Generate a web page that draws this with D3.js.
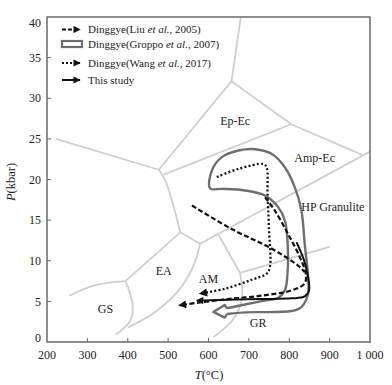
<!DOCTYPE html>
<html>
<head>
<meta charset="utf-8">
<script src="https://cdn.jsdelivr.net/npm/d3@7"></script>
<style>
  body { margin: 0; background: #fff; }
  svg { font-family: "Liberation Serif", "Times New Roman", serif; }
</style>
</head>
<body>
<svg id="chart" width="392" height="385"></svg>
<script>
// axis ticks
var xTicks = [200, 300, 400, 500, 600, 700, 800, 900, 1000];
var yTicks = [0, 5, 10, 15, 20, 25, 30, 35, 40];

// facies boundaries, [T (°C), P (kbar)]
var bTop      = [[680, 40], [657, 32.1]];
var bEpEcR    = [[657, 32.1], [805, 26.8]];
var bEpAmp    = [[805, 26.8], [982, 23]];
var bLeft     = [[222, 25], [477, 21.2]];
var bEpEcL    = [[477, 21.2], [657, 32.1]];
var bEpEcLow  = [[489, 20.6], [805, 26.8]];
var bEaTop    = [[477, 21.2], [493, 19.9], [514, 16.6], [530, 13.5]];
var bGsTop    = [[530, 13.5], [394.5, 7.5]];
var bGsLeft   = [[394.5, 7.5], [320, 7.0], [255, 5.7]];
var bGsRight  = [[394.5, 7.5], [412, 4.6], [406, 2.6], [370, 0.9]];
var bShort    = [[530, 13.5], [579, 12.1]];
var bHpg      = [[579, 12.1], [999, 23.4]];
var bEaAm     = [[579, 12.1], [563, 9.4], [526, 6.35], [468, 3.7], [401, 1.8]];
var bAmBr     = [[625, 13.2], [678, 8.5]];
var bGrTop    = [[678, 8.5], [900, 11.7]];
var bAmGr     = [[678, 8.5], [683, 5.3], [660, 2.7], [612, 0.6]];
var straight = [bTop, bEpEcR, bEpAmp, bLeft, bEpEcL, bEpEcLow, bGsTop, bShort, bHpg, bAmBr, bGrTop];
var curved = [bEaTop, bGsLeft, bGsRight, bEaAm, bAmGr];

// facies names
var facies = [
  {name: "Ep-Ec", T: 666, P: 27.2},
  {name: "Amp-Ec", T: 863, P: 22.7},
  {name: "HP Granulite", T: 908, P: 16.6},
  {name: "EA", T: 489, P: 8.8},
  {name: "AM", T: 600, P: 7.8},
  {name: "GS", T: 345, P: 4.1},
  {name: "GR", T: 723, P: 2.4}
];

// P-T paths
var liuA = [[559, 16.8], [657.5, 13.9], [756, 11.5], [822, 9.4], [838, 8.6]];
var liuB = [[740, 17.8], [764, 16.2], [797, 13.3], [826, 10.45], [841, 8.4], [838, 7.2],
            [805, 6.35], [731, 5.7], [649, 5.29], [575, 4.84], [527, 4.5]];
var wang = [[620.5, 20.3], [674, 21.3], [735.6, 21.9], [743.8, 21.5], [746.3, 18.2],
            [749.6, 14.1], [752, 9.2], [743.8, 8.4], [706.8, 7.66], [641, 6.56], [578, 5.95]];
var thisStudy = [[818, 12.3], [836.7, 10.04], [846.6, 8.0], [849, 6.35], [838.3, 5.61],
                 [805.5, 5.37], [731.5, 5.29], [649.3, 5.2], [583.6, 5.12], [571, 5.12]];
var groppoBand = [[646, 4.15], [731.5, 5.04], [772.6, 5.45], [789, 6.35], [795.6, 8.4],
                  [795.6, 12.5], [789, 14.96], [772.6, 16.6], [739.7, 18.03], [690.4, 18.65],
                  [632.9, 18.85], [604, 18.9], [608.2, 21.1], [632.9, 22.75], [674, 23.57],
                  [715, 23.73], [756.1, 23.16], [789, 21.5], [813.7, 19.06], [830.1, 16.19],
                  [838.3, 12.09], [846.6, 8.0], [846.6, 5.94], [830.1, 4.3], [805.5, 3.81],
                  [690.4, 3.65], [646, 3.45]];
var groppoHead = [[646, 3.45], [640, 3.0], [612, 3.7], [640, 4.55], [646, 4.15]];

var svg = d3.select("#chart");
var x = d3.scaleLinear().domain([200, 1000]).range([47, 370]);
var y = d3.scaleLinear().domain([0, 40]).range([342, 17]);

var lineStraight = d3.line().x(function(d) { return x(d[0]); }).y(function(d) { return y(d[1]); });
var lineCurve = d3.line().x(function(d) { return x(d[0]); }).y(function(d) { return y(d[1]); })
    .curve(d3.curveCatmullRom.alpha(0.5));

// arrow marker
svg.append("defs").append("marker")
    .attr("id", "arrow")
    .attr("viewBox", "0 0 10 10")
    .attr("refX", 9).attr("refY", 5)
    .attr("markerWidth", 4).attr("markerHeight", 3.6)
    .attr("orient", "auto")
  .append("path")
    .attr("d", "M0,0 L10,5 L0,10 z")
    .attr("fill", "#111");

var clip = svg.append("clipPath").attr("id", "plotclip")
  .append("rect").attr("x", 47).attr("y", 17).attr("width", 323).attr("height", 325);

var plot = svg.append("g").attr("clip-path", "url(#plotclip)");

// facies boundaries
plot.selectAll("path.bs").data(straight).enter().append("path")
    .attr("class", "bs")
    .attr("d", lineStraight)
    .attr("fill", "none").attr("stroke", "#cfcfcf").attr("stroke-width", 1.8);
plot.selectAll("path.bc").data(curved).enter().append("path")
    .attr("class", "bc")
    .attr("d", lineCurve)
    .attr("fill", "none").attr("stroke", "#cfcfcf").attr("stroke-width", 1.8);

plot.selectAll("text.fac").data(facies).enter().append("text")
    .attr("class", "fac")
    .attr("x", function(d) { return x(d.T); })
    .attr("y", function(d) { return y(d.P); })
    .attr("dy", "0.35em")
    .attr("text-anchor", "middle")
    .attr("font-size", 12)
    .attr("fill", "#222")
    .text(function(d) { return d.name; });

// Groppo hollow arrow band
plot.append("path").attr("d", lineCurve(groppoBand))
    .attr("fill", "none").attr("stroke", "#6f6f6f").attr("stroke-width", 2.4)
    .attr("stroke-linejoin", "round");
plot.append("path").attr("d", lineStraight(groppoHead))
    .attr("fill", "none").attr("stroke", "#6f6f6f").attr("stroke-width", 2.4)
    .attr("stroke-linejoin", "round");

// Liu (dashed)
plot.append("path").attr("d", lineCurve(liuA))
    .attr("fill", "none").attr("stroke", "#111").attr("stroke-width", 2.2)
    .attr("stroke-dasharray", "5,2.5");
plot.append("path").attr("d", lineCurve(liuB))
    .attr("fill", "none").attr("stroke", "#111").attr("stroke-width", 2.2)
    .attr("stroke-dasharray", "5,2.5")
    .attr("marker-end", "url(#arrow)");

// Wang (dotted)
plot.append("path").attr("d", lineCurve(wang))
    .attr("fill", "none").attr("stroke", "#111").attr("stroke-width", 2.3)
    .attr("stroke-dasharray", "2,2.2")
    .attr("marker-end", "url(#arrow)");

// This study (solid)
plot.append("path").attr("d", lineCurve(thisStudy))
    .attr("fill", "none").attr("stroke", "#111").attr("stroke-width", 2)
    .attr("marker-end", "url(#arrow)");

// frame
svg.append("rect").attr("x", 47).attr("y", 17).attr("width", 323).attr("height", 325)
    .attr("fill", "none").attr("stroke", "#6a6a6a").attr("stroke-width", 1.5);

// x ticks (inward)
svg.selectAll("line.xt").data(xTicks.slice(1, -1)).enter().append("line")
    .attr("x1", function(d) { return x(d); }).attr("x2", function(d) { return x(d); })
    .attr("y1", 342).attr("y2", 338)
    .attr("stroke", "#6a6a6a").attr("stroke-width", 1);
svg.selectAll("text.xl").data(xTicks).enter().append("text")
    .attr("x", function(d) { return x(d); })
    .attr("y", 359)
    .attr("text-anchor", "middle")
    .attr("font-size", 12)
    .attr("fill", "#222")
    .text(function(d) { return d === 1000 ? "1 000" : d; });

// y ticks (inward)
svg.selectAll("line.yt").data(yTicks.slice(1, -1)).enter().append("line")
    .attr("x1", 47).attr("x2", 51)
    .attr("y1", function(d) { return y(d); }).attr("y2", function(d) { return y(d); })
    .attr("stroke", "#6a6a6a").attr("stroke-width", 1);
svg.selectAll("text.yl").data(yTicks).enter().append("text")
    .attr("x", 41)
    .attr("y", function(d) { return y(d) + (d === 0 ? -4 : d === 40 ? 6 : 0); })
    .attr("dy", "0.35em")
    .attr("text-anchor", "end")
    .attr("font-size", 12)
    .attr("fill", "#222")
    .text(function(d) { return d; });

// axis titles
var xt = svg.append("text").attr("x", 209).attr("y", 379)
    .attr("text-anchor", "middle").attr("font-size", 12.5).attr("fill", "#222");
xt.append("tspan").attr("font-style", "italic").text("T");
xt.append("tspan").text("(°C)");

var yt = svg.append("text").attr("transform", "translate(15,182) rotate(-90)")
    .attr("text-anchor", "middle").attr("font-size", 12.5).attr("fill", "#222");
yt.append("tspan").attr("font-style", "italic").text("P");
yt.append("tspan").text("(kbar)");

// legend
var legend = [
  {pre: "Dinggye(Liu ", it: "et al.", post: ", 2005)", type: "dash", y: 29.5},
  {pre: "Dinggye(Groppo ", it: "et al.", post: ", 2007)", type: "box", y: 44},
  {pre: "Dinggye(Wang ", it: "et al.", post: ", 2017)", type: "dot", y: 63},
  {pre: "This study", it: "", post: "", type: "solid", y: 80}
];
var lg = svg.append("g");
legend.forEach(function(e) {
  if (e.type === "box") {
    lg.append("rect").attr("x", 62).attr("y", e.y - 3).attr("width", 20).attr("height", 6)
      .attr("fill", "#fff").attr("stroke", "#6f6f6f").attr("stroke-width", 2.2);
  } else {
    var l = lg.append("line").attr("x1", 62).attr("x2", 80).attr("y1", e.y).attr("y2", e.y)
      .attr("stroke", "#111").attr("stroke-width", 2)
      .attr("marker-end", "url(#arrow)");
    if (e.type === "dash") l.attr("stroke-dasharray", "4,2");
    if (e.type === "dot") l.attr("stroke-dasharray", "2,2");
  }
  var t = lg.append("text").attr("x", 88).attr("y", e.y).attr("dy", "0.35em")
    .attr("font-size", 11).attr("fill", "#222");
  t.append("tspan").text(e.pre);
  if (e.it) t.append("tspan").attr("font-style", "italic").text(e.it);
  if (e.post) t.append("tspan").text(e.post);
});
</script>
</body>
</html>
